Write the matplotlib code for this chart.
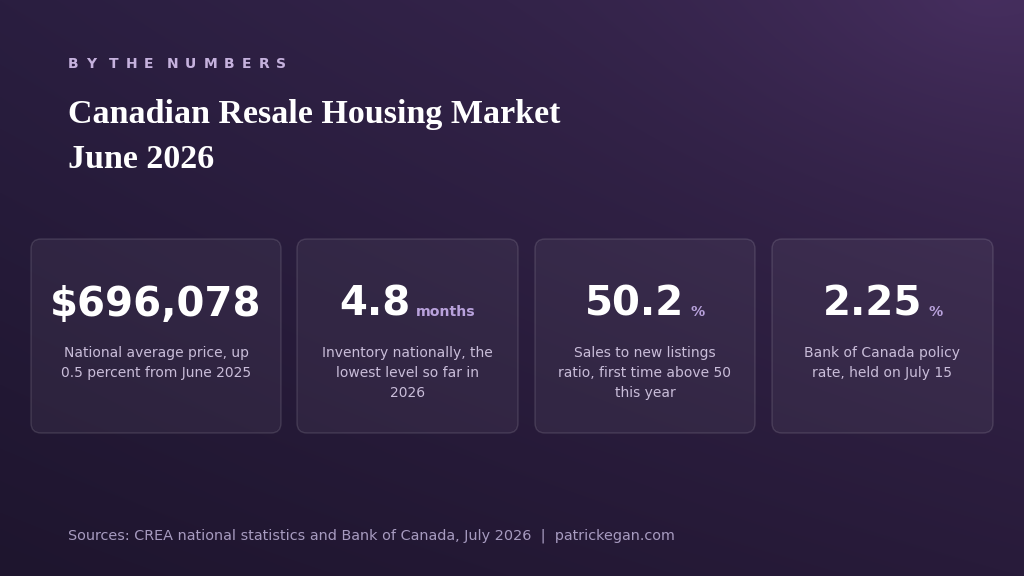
import numpy as np
import matplotlib
matplotlib.use("Agg")
import matplotlib.pyplot as plt
from matplotlib.patches import FancyBboxPatch

# datos de las tarjetas
valores = ["$696,078", "4.8", "50.2", "2.25"]
unidades = ["", "months", "%", "%"]
descripciones = [
    "National average price, up\n0.5 percent from June 2025",
    "Inventory nationally, the\nlowest level so far in\n2026",
    "Sales to new listings\nratio, first time above 50\nthis year",
    "Bank of Canada policy\nrate, held on July 15",
]
kicker = "BY THE NUMBERS"
titulo = "Canadian Resale Housing Market\nJune 2026"
fuente = "Sources: CREA national statistics and Bank of Canada, July 2026  |  patrickegan.com"

W, H = 1024, 576
fig = plt.figure(figsize=(W / 100, H / 100), dpi=100)
ax = fig.add_axes([0, 0, 1, 1])
ax.set_xlim(0, W)
ax.set_ylim(H, 0)
ax.axis("off")

# fondo degradado
yy, xx = np.mgrid[0:H, 0:W]
u = xx / W
v = yy / H
c_tl = np.array([42, 30, 64]) / 255
c_tr = np.array([60, 40, 82]) / 255
c_bl = np.array([30, 21, 46]) / 255
c_br = np.array([40, 27, 58]) / 255
img = (c_tl * ((1 - u) * (1 - v))[..., None] + c_tr * (u * (1 - v))[..., None]
       + c_bl * ((1 - u) * v)[..., None] + c_br * (u * v)[..., None])
d = np.sqrt(((xx - 980) / 520) ** 2 + ((yy - 0) / 320) ** 2)
glow = np.clip(1 - d, 0, 1) ** 2
img = img + glow[..., None] * np.array([0.04, 0.025, 0.05])
ax.imshow(np.clip(img, 0, 1), extent=(0, W, H, 0), zorder=0, aspect="auto")

fig.canvas.draw()
renderer = fig.canvas.get_renderer()


def ancho(t):
    bb = t.get_window_extent(renderer=renderer)
    return bb.width


# kicker con espaciado de letras
x = 68
for ch in kicker:
    t = ax.text(x, 64, ch, fontsize=10, fontweight="bold", color="#c6b2de",
                family="DejaVu Sans", va="center", ha="left")
    if ch == " ":
        x += 6
    else:
        x += ancho(t) + 7

ax.text(68, 114, titulo.split("\n")[0], fontsize=24.5, fontweight="bold", color="white",
        family=["Liberation Serif", "DejaVu Serif"], va="center", ha="left")
ax.text(68, 159, titulo.split("\n")[1], fontsize=24.5, fontweight="bold", color="white",
        family=["Liberation Serif", "DejaVu Serif"], va="center", ha="left")

# tarjetas
cajas = [(31, 250), (297, 221), (535, 220), (772, 221)]
top, alto = 239, 194
for i, (x0, w) in enumerate(cajas):
    p = FancyBboxPatch((x0, top), w, alto, boxstyle="round,pad=0,rounding_size=10",
                       facecolor=(1, 1, 1, 0.05), edgecolor=(1, 1, 1, 0.12),
                       linewidth=1, zorder=2)
    ax.add_patch(p)
    cx = x0 + w / 2
    tv = ax.text(0, 316, valores[i], fontsize=29, fontweight="bold", color="white",
                 family="DejaVu Sans", va="baseline", ha="left", zorder=3)
    wv = ancho(tv)
    if unidades[i]:
        tu = ax.text(0, 316, unidades[i], fontsize=10.2, fontweight="bold", color="#b9a2dc",
                     family="DejaVu Sans", va="baseline", ha="left", zorder=3)
        wu = ancho(tu)
        gap = 6
        total = wv + gap + wu
        tv.set_x(cx - total / 2)
        tu.set_x(cx - total / 2 + wv + gap)
    else:
        tv.set_x(cx - wv / 2)
    ax.text(cx, 346, descripciones[i], fontsize=10, color="#c9bdd9", family="DejaVu Sans",
            va="top", ha="center", linespacing=1.54, zorder=3)

ax.text(68, 536, fuente, fontsize=10.4, color="#a79bc0", family="DejaVu Sans",
        va="center", ha="left")

fig.savefig("out.png", dpi=100)
